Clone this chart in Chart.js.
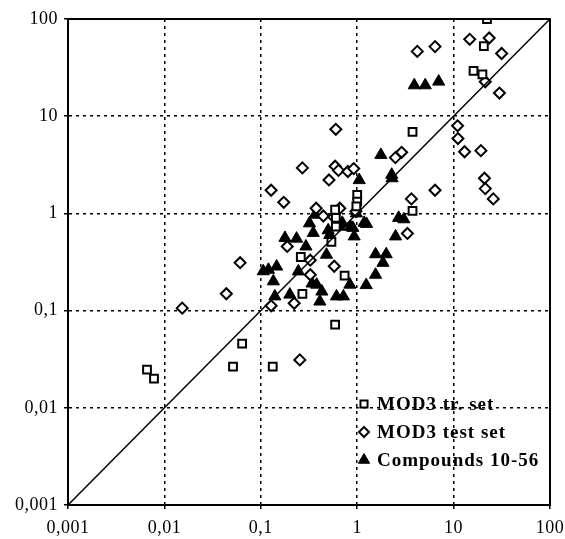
<!DOCTYPE html>
<html>
<head>
<meta charset="utf-8">
<script src="https://cdn.jsdelivr.net/npm/chart.js@4"></script>
<style>
  html, body { margin: 0; padding: 0; background: #fff; }
  #wrap { width: 565px; height: 539px; }
</style>
</head>
<body>
<div id="wrap"><canvas id="chart" width="565" height="539"></canvas></div>
<script>
// axis ticks
const tickValues = [0.001, 0.01, 0.1, 1, 10, 100];
const tickLabels = ['0,001', '0,01', '0,1', '1', '10', '100'];

// MOD3 training set
const trainX = [22.2, 20.6, 16.1, 19.9, 3.75, 3.75, 1.0, 1.0, 0.98, 0.59, 0.60, 0.60, 0.54, 0.26, 0.74, 0.27, 0.0066, 0.0078, 0.064, 0.0515, 0.133, 0.59];
const trainY = [100, 52.5, 29.2, 26.9, 6.9, 1.06, 1.55, 1.32, 1.18, 1.09, 0.90, 0.73, 0.51, 0.356, 0.229, 0.149, 0.0247, 0.020, 0.0457, 0.0265, 0.0265, 0.0716];

// MOD3 test set
const testX = [14.7, 23.4, 31.5, 4.2, 6.42, 21.3, 29.9, 11.0, 11.1, 13.0, 19.2, 20.9, 21.3, 25.8, 6.42, 3.65, 3.32, 2.89, 2.49,
  0.60, 0.59, 0.64, 0.80, 0.92, 0.51, 0.27, 0.128, 0.173, 0.375, 0.66, 0.445, 0.57, 0.97, 0.188, 0.326, 0.326, 0.578, 0.222, 0.128, 0.061, 0.0439, 0.0153, 0.254];
const testY = [61.8, 63.8, 44.2, 46.4, 52, 22.6, 17.3, 7.96, 5.89, 4.31, 4.42, 2.30, 1.80, 1.41, 1.73, 1.41, 0.622, 4.25, 3.75,
  7.33, 3.06, 2.77, 2.7, 2.89, 2.21, 2.94, 1.73, 1.30, 1.13, 1.13, 0.94, 0.92, 1.05, 0.457, 0.33, 0.234, 0.286, 0.119, 0.112, 0.311, 0.149, 0.106, 0.0311];

// Compounds 10-56
const compX = [3.91, 5.08, 7.0, 1.76, 2.28, 2.3, 1.05, 2.69, 3.05, 2.5, 1.18, 1.55, 2.0, 1.85, 1.55, 1.24,
  0.365, 0.32, 0.35, 0.178, 0.235, 0.294, 0.245, 0.48, 0.52, 0.5, 0.66, 0.70, 0.90, 0.93, 0.85, 1.25,
  0.12, 0.146, 0.135, 0.14, 0.106, 0.20, 0.38, 0.43, 0.41, 0.61, 0.72, 0.84, 0.34, 0.98];
const compY = [20.8, 20.8, 22.7, 4.0, 2.5, 2.3, 2.2, 0.9, 0.87, 0.58, 0.80, 0.38, 0.38, 0.31, 0.234, 0.183,
  0.97, 0.79, 0.63, 0.56, 0.55, 0.457, 0.253, 0.376, 0.60, 0.67, 0.73, 0.80, 0.71, 0.58, 0.73, 0.78,
  0.263, 0.284, 0.2, 0.14, 0.254, 0.146, 0.185, 0.157, 0.124, 0.14, 0.14, 0.185, 0.19, 1.0];

const legendLabels = ['MOD3 tr. set', 'MOD3 test set', 'Compounds 10-56'];

const toPoints = (xs, ys) => xs.map((x, i) => ({ x: x, y: ys[i] }));
const FONT = '"Liberation Serif", "Times New Roman", serif';

const trainStyle = { pointStyle: 'rect', radius: 5.5, borderWidth: 2, fill: '#fff' };
const testStyle = { pointStyle: 'rectRot', radius: 5.5, borderWidth: 2, fill: '#fff' };
const compStyle = { pointStyle: 'triangle', radius: 7, borderWidth: 1, fill: '#000' };

// slightly spaced lettering like the scanned original
const spacingPlugin = {
  id: 'spacing',
  beforeLayout(chart) { chart.ctx.letterSpacing = '0.5px'; },
  beforeDraw(chart) { chart.ctx.letterSpacing = '0.5px'; }
};

// frame + legend inside the plot
const framePlugin = {
  id: 'frame',
  afterDatasetsDraw(chart) {
    const { ctx, chartArea: a } = chart;
    ctx.save();
    ctx.strokeStyle = '#000';
    ctx.lineWidth = 2;
    ctx.strokeRect(a.left, a.top, a.right - a.left, a.bottom - a.top);

    const styles = [trainStyle, testStyle, compStyle];
    ctx.font = 'bold 19px ' + FONT;
    ctx.letterSpacing = '1px';
    ctx.textBaseline = 'middle';
    ctx.textAlign = 'left';
    legendLabels.forEach((label, i) => {
      const y = 404 + i * 28;
      const s = styles[i];
      ctx.fillStyle = s.fill;
      ctx.strokeStyle = '#000';
      ctx.lineWidth = s.borderWidth;
      Chart.helpers.drawPoint(ctx, { pointStyle: s.pointStyle, radius: s.radius - 0.5, borderWidth: s.borderWidth, rotation: 0 }, 364, y);
      ctx.fillStyle = '#000';
      ctx.fillText(label, 377, y + 1);
    });
    ctx.restore();
  }
};

const logAxis = (isX) => ({
  type: 'logarithmic',
  min: 0.001,
  max: 100,
  afterBuildTicks: (scale) => { scale.ticks = tickValues.map(v => ({ value: v })); },
  afterFit: (scale) => {
    if (isX) {
      scale.height = 34;
      scale.paddingRight = 15;
      scale.paddingLeft = 0;
    } else {
      scale.width = 68;
      scale.paddingTop = 0;
      scale.paddingBottom = 0;
    }
  },
  ticks: {
    autoSkip: false,
    maxRotation: 0,
    padding: isX ? 8 : 6,
    color: '#000',
    font: { family: FONT, size: 18 },
    callback: (value, index) => tickLabels[index]
  },
  grid: { color: '#000', lineWidth: 1.5, tickLength: 4, drawOnChartArea: true },
  border: { display: true, color: '#000', width: 2, dash: [3, 4] }
});

new Chart(document.getElementById('chart'), {
  type: 'scatter',
  data: {
    datasets: [
      {
        type: 'line',
        data: [{ x: 0.001, y: 0.001 }, { x: 100, y: 100 }],
        borderColor: '#000',
        borderWidth: 1.5,
        pointRadius: 0,
        fill: false
      },
      {
        label: legendLabels[0],
        data: toPoints(trainX, trainY),
        pointStyle: trainStyle.pointStyle,
        pointRadius: trainStyle.radius,
        borderWidth: trainStyle.borderWidth,
        borderColor: '#000',
        backgroundColor: trainStyle.fill
      },
      {
        label: legendLabels[1],
        data: toPoints(testX, testY),
        pointStyle: testStyle.pointStyle,
        pointRadius: testStyle.radius,
        borderWidth: testStyle.borderWidth,
        borderColor: '#000',
        backgroundColor: testStyle.fill
      },
      {
        label: legendLabels[2],
        data: toPoints(compX, compY),
        pointStyle: compStyle.pointStyle,
        pointRadius: compStyle.radius,
        borderWidth: compStyle.borderWidth,
        borderColor: '#000',
        backgroundColor: compStyle.fill
      }
    ]
  },
  options: {
    responsive: false,
    animation: false,
    events: [],
    layout: { padding: { top: 19, right: 0, left: 0, bottom: 0 } },
    plugins: { legend: { display: false }, tooltip: { enabled: false } },
    scales: { x: logAxis(true), y: logAxis(false) }
  },
  plugins: [spacingPlugin, framePlugin]
});
</script>
</body>
</html>
